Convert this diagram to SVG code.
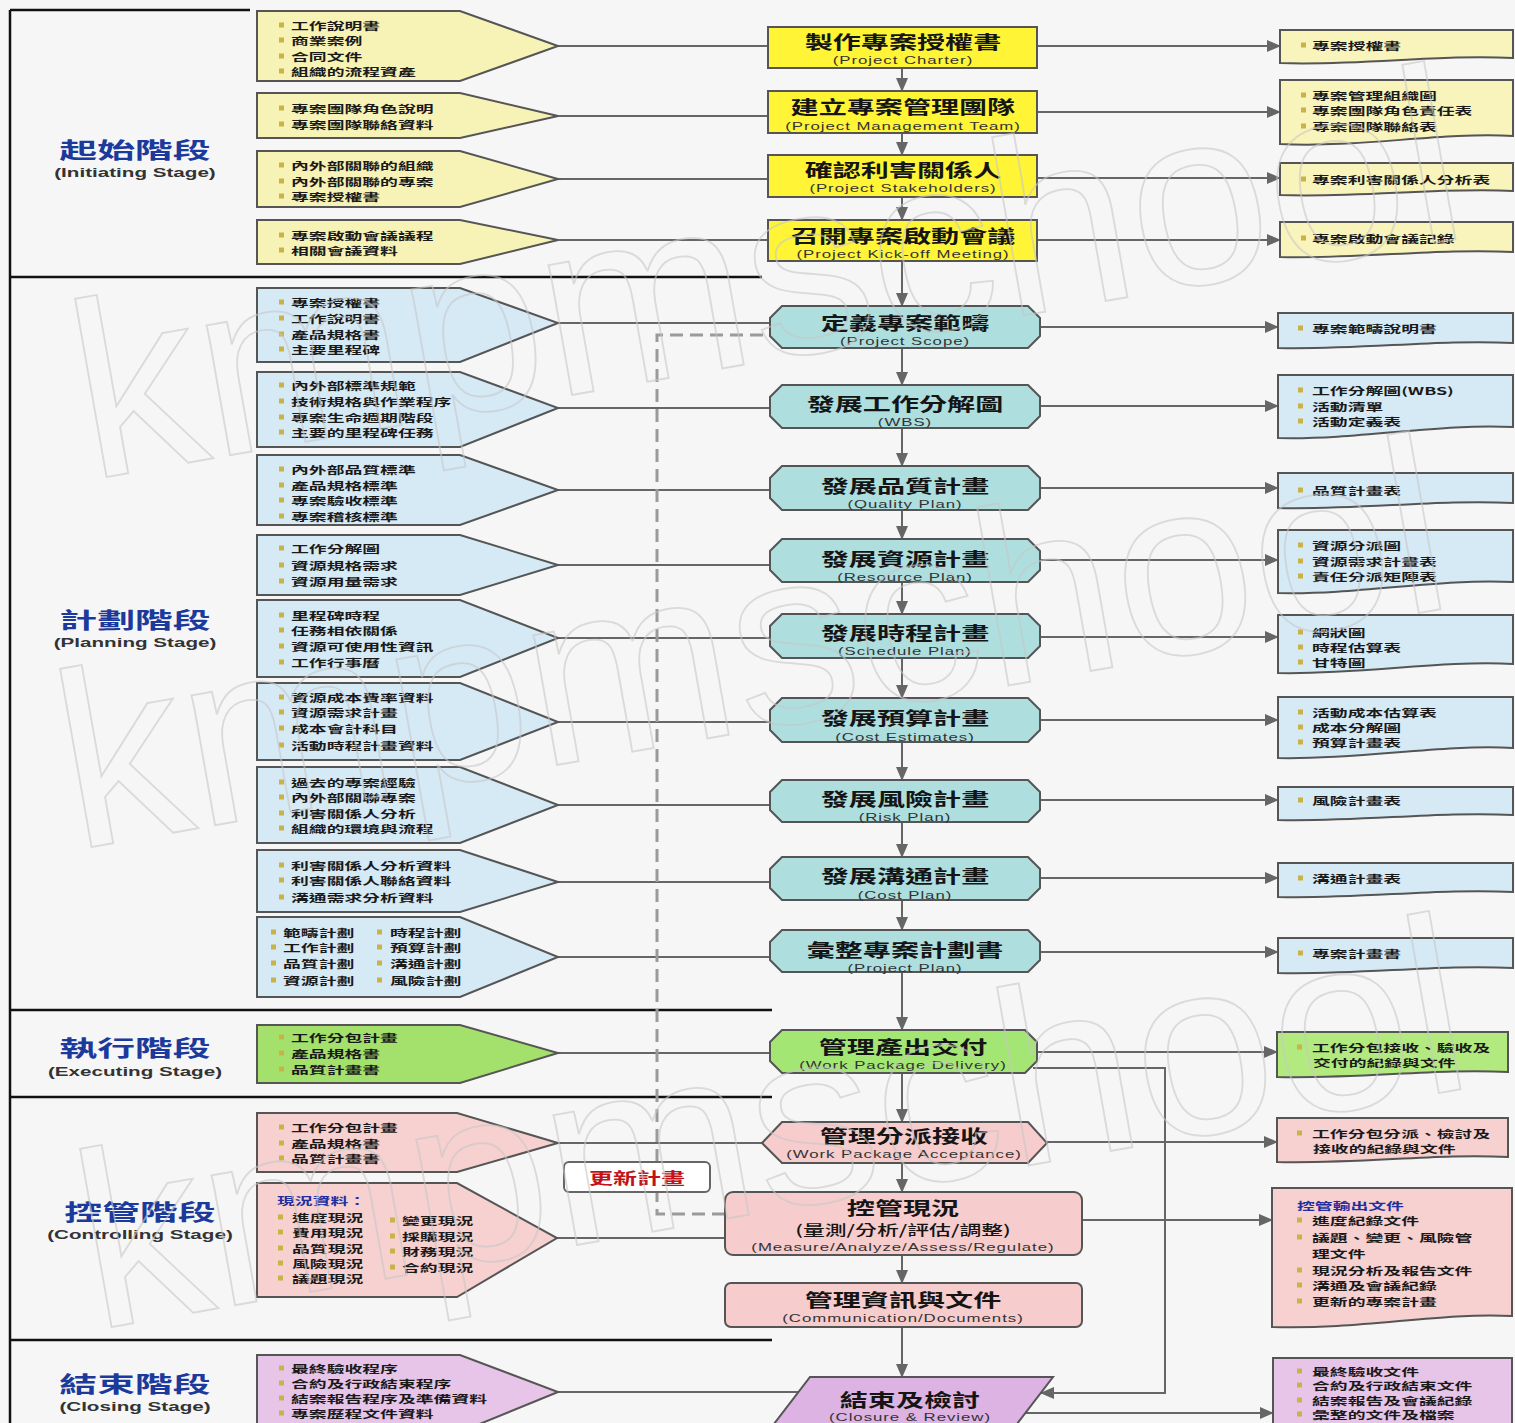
<svg xmlns="http://www.w3.org/2000/svg" xmlns:xlink="http://www.w3.org/1999/xlink" width="1515" height="1423" viewBox="0 0 1515 1423">
<style>
.bg{fill:#f6f6f6}
.frame{stroke:#111;stroke-width:2.5;fill:none}
.box{stroke:#555;stroke-width:2}
.iy{fill:#f7f3b6}.ib{fill:#d6eaf6}.ig{fill:#a3e06c}.ip{fill:#f7d0d0}.iv{fill:#e6c5e8}
.ny{fill:#fff536}.nb{fill:#aedede}.ng{fill:#a4e674}.np{fill:#f6cccc}.nv{fill:#dcb3e3}
.oy{fill:#f8f4bb}.ob{fill:#d6eaf6}.og{fill:#b3ea7f}.op{fill:#f7d0d0}.ov{fill:#e6c5e8}
.t{font-family:"Noto Sans CJK TC","Noto Sans CJK SC",sans-serif;font-size:10.5px;font-weight:700;fill:#1a1a1a;dominant-baseline:central;transform-box:fill-box;transform-origin:0 50%;transform:scaleX(1.7)}
.tb{fill:#1f2fa0}
.h{font-family:"Noto Sans CJK TC","Noto Sans CJK SC",sans-serif;font-size:18px;font-weight:700;fill:#151515;text-anchor:middle;dominant-baseline:central;transform-box:fill-box;transform-origin:50% 50%;transform:scaleX(1.56)}
.h2{font-size:14px;font-weight:500}
.s{font-family:"Liberation Sans",Arial,sans-serif;font-size:10.5px;letter-spacing:0.6px;fill:#333;text-anchor:middle;dominant-baseline:central;transform-box:fill-box;transform-origin:50% 50%;transform:scaleX(1.6)}
.g{font-family:"Noto Sans CJK TC","Noto Sans CJK SC",sans-serif;font-size:22px;font-weight:700;fill:#1b3a9c;text-anchor:middle;dominant-baseline:central;transform-box:fill-box;transform-origin:50% 50%;transform:scaleX(1.72)}
.ge{font-family:"Liberation Sans",Arial,sans-serif;font-size:12.5px;font-weight:700;fill:#333;text-anchor:middle;dominant-baseline:central;transform-box:fill-box;transform-origin:50% 50%;transform:scaleX(1.65)}
.upd{font-family:"Noto Sans CJK TC","Noto Sans CJK SC",sans-serif;font-size:16px;font-weight:700;fill:#c0141a;text-anchor:middle;dominant-baseline:central;transform-box:fill-box;transform-origin:50% 50%;transform:scaleX(1.5)}
.ln{stroke:#666;stroke-width:2;fill:none}
.ar{stroke:#666;stroke-width:2;fill:none;marker-end:url(#ah)}
.dash{stroke:#9a9a9a;stroke-width:3;fill:none;stroke-dasharray:13 7}
.wm{font-family:"Liberation Sans",Arial,sans-serif;font-size:250px;fill:none;stroke:#c8c8c8;stroke-width:1.8;opacity:0.6}
</style>
<defs>
<marker id="ah" markerUnits="userSpaceOnUse" markerWidth="14" markerHeight="14" viewBox="0 0 14 14" refX="13" refY="7" orient="auto">
<path d="M0,1 L14,7 L0,13 Z" fill="#666"/>
</marker>
<rect id="bu" x="0" y="-2.5" width="5" height="5" fill="#c9b246"/>
</defs>
<rect class="bg" x="0" y="0" width="1515" height="1423"/>

<g id="frame">
<path class="frame" d="M10,10 H250 M10,10 V1423 M10,277 H762 M10,1010 H772 M10,1097 H772 M10,1340 H772"/>
</g>

<g id="stages">
<g id="stage-initiating"><text class="g" x="135" y="148">起始階段</text><text class="ge" x="135" y="173">(Initiating  Stage)</text></g>
<g id="stage-planning"><text class="g" x="135" y="618">計劃階段</text><text class="ge" x="135" y="643">(Planning  Stage)</text></g>
<g id="stage-executing"><text class="g" x="135" y="1046">執行階段</text><text class="ge" x="135" y="1072">(Executing  Stage)</text></g>
<g id="stage-controlling"><text class="g" x="140" y="1210">控管階段</text><text class="ge" x="140" y="1235">(Controlling  Stage)</text></g>
<g id="stage-closing"><text class="g" x="135" y="1382">結束階段</text><text class="ge" x="135" y="1407">(Closing  Stage)</text></g>
</g>

<g id="connectors">
<path class="ln" d="M558,46 H768 M558,116 H768 M558,179 H768 M558,240 H768"/>
<path class="ln" d="M558,323 H770 M558,408 H770 M558,490 H770 M558,565 H770 M558,638 H770 M558,722 H770 M558,805 H770 M558,882 H770 M558,957 H770"/>
<path class="ln" d="M558,1053 H770 M558,1143 H762 M557,1238 H725 M558,1392 H799"/>
<path class="ar" d="M902,68 V91"/>
<path class="ar" d="M902,133 V155"/>
<path class="ar" d="M902,197 V220"/>
<path class="ar" d="M902,261 V306"/>
<path class="ar" d="M902,348 V385"/>
<path class="ar" d="M902,428 V466"/>
<path class="ar" d="M902,510 V539"/>
<path class="ar" d="M902,582 V614"/>
<path class="ar" d="M902,658 V698"/>
<path class="ar" d="M902,742 V780"/>
<path class="ar" d="M902,822 V857"/>
<path class="ar" d="M902,900 V930"/>
<path class="ar" d="M902,972 V1030"/>
<path class="ar" d="M902,1073 V1122"/>
<path class="ar" d="M902,1163 V1192"/>
<path class="ar" d="M902,1255 V1283"/>
<path class="ar" d="M902,1327 V1377"/>
<path class="ar" d="M1037,46 H1280"/>
<path class="ar" d="M1037,112 H1280"/>
<path class="ar" d="M1037,178 H1280"/>
<path class="ar" d="M1037,240 H1280"/>
<path class="ar" d="M1040,327 H1278"/>
<path class="ar" d="M1040,406 H1278"/>
<path class="ar" d="M1040,488 H1278"/>
<path class="ar" d="M1040,560 H1278"/>
<path class="ar" d="M1040,637 H1278"/>
<path class="ar" d="M1040,720 H1278"/>
<path class="ar" d="M1040,800 H1278"/>
<path class="ar" d="M1040,878 H1278"/>
<path class="ar" d="M1040,952 H1278"/>
<path class="ar" d="M1037,1052 H1277"/>
<path class="ar" d="M1047,1142 H1277"/>
<path class="ar" d="M1082,1220 H1272"/>
<path class="ar" d="M1025,1413 H1273"/>
<path class="ar" d="M1033,1068 H1165 V1393 H1041"/>
<path class="dash" d="M725,1214 H657 V335 H770"/>
</g>

<g id="in-init-1"><path class="box iy" d="M257,11H460L558,46L460,81H257Z"/>
<use href="#bu" x="279" y="25"/><text class="t" x="291" y="25">工作說明書</text>
<use href="#bu" x="279" y="40"/><text class="t" x="291" y="40">商業案例</text>
<use href="#bu" x="279" y="56"/><text class="t" x="291" y="56">合同文件</text>
<use href="#bu" x="279" y="71"/><text class="t" x="291" y="71">組織的流程資產</text></g>
<g id="in-init-2"><path class="box iy" d="M257,93H460L558,116L460,138H257Z"/>
<use href="#bu" x="279" y="108"/><text class="t" x="291" y="108">專案團隊角色說明</text>
<use href="#bu" x="279" y="124"/><text class="t" x="291" y="124">專案團隊聯絡資料</text></g>
<g id="in-init-3"><path class="box iy" d="M257,151H460L558,179L460,207H257Z"/>
<use href="#bu" x="279" y="165"/><text class="t" x="291" y="165">內外部關聯的組織</text>
<use href="#bu" x="279" y="181"/><text class="t" x="291" y="181">內外部關聯的專案</text>
<use href="#bu" x="279" y="196"/><text class="t" x="291" y="196">專案授權書</text></g>
<g id="in-init-4"><path class="box iy" d="M257,220H460L558,240L460,264H257Z"/>
<use href="#bu" x="279" y="235"/><text class="t" x="291" y="235">專案啟動會議議程</text>
<use href="#bu" x="279" y="250"/><text class="t" x="291" y="250">相關會議資料</text></g>

<g id="in-plan-1"><path class="box ib" d="M257,288H460L558,323L460,362H257Z"/>
<use href="#bu" x="279" y="302"/><text class="t" x="291" y="302">專案授權書</text>
<use href="#bu" x="279" y="318"/><text class="t" x="291" y="318">工作說明書</text>
<use href="#bu" x="279" y="334"/><text class="t" x="291" y="334">產品規格書</text>
<use href="#bu" x="279" y="349"/><text class="t" x="291" y="349">主要里程碑</text></g>
<g id="in-plan-2"><path class="box ib" d="M257,372H460L558,408L460,447H257Z"/>
<use href="#bu" x="279" y="385"/><text class="t" x="291" y="385">內外部標準規範</text>
<use href="#bu" x="279" y="401"/><text class="t" x="291" y="401">技術規格與作業程序</text>
<use href="#bu" x="279" y="417"/><text class="t" x="291" y="417">專案生命週期階段</text>
<use href="#bu" x="279" y="432"/><text class="t" x="291" y="432">主要的里程碑任務</text></g>
<g id="in-plan-3"><path class="box ib" d="M257,455H460L558,490L460,525H257Z"/>
<use href="#bu" x="279" y="469"/><text class="t" x="291" y="469">內外部品質標準</text>
<use href="#bu" x="279" y="485"/><text class="t" x="291" y="485">產品規格標準</text>
<use href="#bu" x="279" y="500"/><text class="t" x="291" y="500">專案驗收標準</text>
<use href="#bu" x="279" y="516"/><text class="t" x="291" y="516">專案稽核標準</text></g>
<g id="in-plan-4"><path class="box ib" d="M257,535H460L558,565L460,595H257Z"/>
<use href="#bu" x="279" y="548"/><text class="t" x="291" y="548">工作分解圖</text>
<use href="#bu" x="279" y="565"/><text class="t" x="291" y="565">資源規格需求</text>
<use href="#bu" x="279" y="581"/><text class="t" x="291" y="581">資源用量需求</text></g>
<g id="in-plan-5"><path class="box ib" d="M257,600H460L558,638L460,677H257Z"/>
<use href="#bu" x="279" y="615"/><text class="t" x="291" y="615">里程碑時程</text>
<use href="#bu" x="279" y="630"/><text class="t" x="291" y="630">任務相依關係</text>
<use href="#bu" x="279" y="646"/><text class="t" x="291" y="646">資源可使用性資訊</text>
<use href="#bu" x="279" y="662"/><text class="t" x="291" y="662">工作行事曆</text></g>
<g id="in-plan-6"><path class="box ib" d="M257,683H460L558,722L460,760H257Z"/>
<use href="#bu" x="279" y="697"/><text class="t" x="291" y="697">資源成本費率資料</text>
<use href="#bu" x="279" y="712"/><text class="t" x="291" y="712">資源需求計畫</text>
<use href="#bu" x="279" y="728"/><text class="t" x="291" y="728">成本會計科目</text>
<use href="#bu" x="279" y="745"/><text class="t" x="291" y="745">活動時程計畫資料</text></g>
<g id="in-plan-7"><path class="box ib" d="M257,767H460L558,805L460,843H257Z"/>
<use href="#bu" x="279" y="782"/><text class="t" x="291" y="782">過去的專案經驗</text>
<use href="#bu" x="279" y="797"/><text class="t" x="291" y="797">內外部關聯專案</text>
<use href="#bu" x="279" y="813"/><text class="t" x="291" y="813">利害關係人分析</text>
<use href="#bu" x="279" y="828"/><text class="t" x="291" y="828">組織的環境與流程</text></g>
<g id="in-plan-8"><path class="box ib" d="M257,850H460L558,882L460,912H257Z"/>
<use href="#bu" x="279" y="865"/><text class="t" x="291" y="865">利害關係人分析資料</text>
<use href="#bu" x="279" y="880"/><text class="t" x="291" y="880">利害關係人聯絡資料</text>
<use href="#bu" x="279" y="897"/><text class="t" x="291" y="897">溝通需求分析資料</text></g>
<g id="in-plan-9"><path class="box ib" d="M257,917H460L558,957L460,997H257Z"/>
<use href="#bu" x="271" y="932"/><text class="t" x="283" y="932">範疇計劃</text>
<use href="#bu" x="271" y="947"/><text class="t" x="283" y="947">工作計劃</text>
<use href="#bu" x="271" y="963"/><text class="t" x="283" y="963">品質計劃</text>
<use href="#bu" x="271" y="980"/><text class="t" x="283" y="980">資源計劃</text>
<use href="#bu" x="377" y="932"/><text class="t" x="390" y="932">時程計劃</text>
<use href="#bu" x="377" y="947"/><text class="t" x="390" y="947">預算計劃</text>
<use href="#bu" x="377" y="963"/><text class="t" x="390" y="963">溝通計劃</text>
<use href="#bu" x="377" y="980"/><text class="t" x="390" y="980">風險計劃</text></g>

<g id="in-exec"><path class="box ig" d="M257,1025H460L558,1053L460,1083H257Z"/>
<use href="#bu" x="279" y="1037"/><text class="t" x="291" y="1037">工作分包計畫</text>
<use href="#bu" x="279" y="1053"/><text class="t" x="291" y="1053">產品規格書</text>
<use href="#bu" x="279" y="1069"/><text class="t" x="291" y="1069">品質計畫書</text></g>
<g id="in-ctrl-1"><path class="box ip" d="M257,1113H457L558,1143L457,1172H257Z"/>
<use href="#bu" x="279" y="1127"/><text class="t" x="291" y="1127">工作分包計畫</text>
<use href="#bu" x="279" y="1143"/><text class="t" x="291" y="1143">產品規格書</text>
<use href="#bu" x="279" y="1158"/><text class="t" x="291" y="1158">品質計畫書</text></g>
<g id="in-ctrl-2"><path class="box ip" d="M257,1183H457L557,1238L457,1297H257Z"/>
<text class="t tb" x="277" y="1200">現況資料：</text>
<use href="#bu" x="278" y="1217"/><text class="t" x="292" y="1217">進度現況</text>
<use href="#bu" x="278" y="1232"/><text class="t" x="292" y="1232">費用現況</text>
<use href="#bu" x="278" y="1248"/><text class="t" x="292" y="1248">品質現況</text>
<use href="#bu" x="278" y="1263"/><text class="t" x="292" y="1263">風險現況</text>
<use href="#bu" x="278" y="1278"/><text class="t" x="292" y="1278">議題現況</text>
<use href="#bu" x="390" y="1220"/><text class="t" x="402" y="1220">變更現況</text>
<use href="#bu" x="390" y="1236"/><text class="t" x="402" y="1236">採購現況</text>
<use href="#bu" x="390" y="1251"/><text class="t" x="402" y="1251">財務現況</text>
<use href="#bu" x="390" y="1267"/><text class="t" x="402" y="1267">合約現況</text></g>
<g id="in-close"><path class="box iv" d="M257,1355H460L558,1392L460,1432H257Z"/>
<use href="#bu" x="279" y="1368"/><text class="t" x="291" y="1368">最終驗收程序</text>
<use href="#bu" x="279" y="1383"/><text class="t" x="291" y="1383">合約及行政結束程序</text>
<use href="#bu" x="279" y="1398"/><text class="t" x="291" y="1398">結案報告程序及準備資料</text>
<use href="#bu" x="279" y="1413"/><text class="t" x="291" y="1413">專案歷程文件資料</text></g>

<g id="update-plan"><rect x="564" y="1162" width="146" height="30" rx="5" fill="#ffffff" stroke="#666" stroke-width="2"/><text class="upd" x="637" y="1177">更新計畫</text></g>

<g id="n-charter"><rect class="box ny" x="768" y="27" width="269" height="41"/><text class="h" x="903" y="41">製作專案授權書</text><text class="s" x="903" y="60">(Project Charter)</text></g>
<g id="n-team"><rect class="box ny" x="768" y="91" width="269" height="42"/><text class="h" x="903" y="106">建立專案管理團隊</text><text class="s" x="903" y="126">(Project Management Team)</text></g>
<g id="n-stake"><rect class="box ny" x="768" y="155" width="269" height="42"/><text class="h" x="903" y="169">確認利害關係人</text><text class="s" x="903" y="188">(Project Stakeholders)</text></g>
<g id="n-kickoff"><rect class="box ny" x="768" y="220" width="269" height="41"/><text class="h" x="903" y="235">召開專案啟動會議</text><text class="s" x="903" y="254">(Project Kick-off Meeting)</text></g>

<g id="n-scope"><path class="box nb" d="M782,306H1028L1040,318V336L1028,348H782L770,336V318Z"/><text class="h" x="905" y="322">定義專案範疇</text><text class="s" x="905" y="341">(Project Scope)</text></g>
<g id="n-wbs"><path class="box nb" d="M782,385H1028L1040,397V416L1028,428H782L770,416V397Z"/><text class="h" x="905" y="403">發展工作分解圖</text><text class="s" x="905" y="422">(WBS)</text></g>
<g id="n-quality"><path class="box nb" d="M782,466H1028L1040,478V498L1028,510H782L770,498V478Z"/><text class="h" x="905" y="485">發展品質計畫</text><text class="s" x="905" y="504">(Quality Plan)</text></g>
<g id="n-resource"><path class="box nb" d="M782,539H1028L1040,551V570L1028,582H782L770,570V551Z"/><text class="h" x="905" y="558">發展資源計畫</text><text class="s" x="905" y="577">(Resource Plan)</text></g>
<g id="n-schedule"><path class="box nb" d="M782,614H1028L1040,626V646L1028,658H782L770,646V626Z"/><text class="h" x="905" y="632">發展時程計畫</text><text class="s" x="905" y="651">(Schedule Plan)</text></g>
<g id="n-cost"><path class="box nb" d="M782,698H1028L1040,710V730L1028,742H782L770,730V710Z"/><text class="h" x="905" y="717">發展預算計畫</text><text class="s" x="905" y="737">(Cost Estimates)</text></g>
<g id="n-risk"><path class="box nb" d="M782,780H1028L1040,792V810L1028,822H782L770,810V792Z"/><text class="h" x="905" y="798">發展風險計畫</text><text class="s" x="905" y="817">(Risk Plan)</text></g>
<g id="n-comm"><path class="box nb" d="M782,857H1028L1040,869V888L1028,900H782L770,888V869Z"/><text class="h" x="905" y="875">發展溝通計畫</text><text class="s" x="905" y="895">(Cost Plan)</text></g>
<g id="n-plan"><path class="box nb" d="M782,930H1028L1040,942V960L1028,972H782L770,960V942Z"/><text class="h" x="905" y="949">彙整專案計劃書</text><text class="s" x="905" y="968">(Project Plan)</text></g>

<g id="n-delivery"><path class="box ng" d="M782,1030H1025L1037,1042V1061L1025,1073H782L770,1061V1042Z"/><text class="h" x="903" y="1046">管理產出交付</text><text class="s" x="903" y="1065">(Work Package Delivery)</text></g>
<g id="n-accept"><path class="box np" d="M782,1122H1028L1047,1143L1028,1163H782L762,1143Z"/><text class="h" x="904" y="1135">管理分派接收</text><text class="s" x="904" y="1154">(Work Package Acceptance)</text></g>
<g id="n-control"><rect class="box np" x="725" y="1192" width="357" height="63" rx="8"/><text class="h" x="903" y="1207">控管現況</text><text class="h h2" x="903" y="1229">(量測/分析/評估/調整)</text><text class="s" x="903" y="1247">(Measure/Analyze/Assess/Regulate)</text></g>
<g id="n-docs"><rect class="box np" x="725" y="1283" width="357" height="44" rx="6"/><text class="h" x="903" y="1299">管理資訊與文件</text><text class="s" x="903" y="1318">(Communication/Documents)</text></g>
<g id="n-closure"><path class="box nv" d="M810,1377H1053L1010,1433H767Z"/><text class="h" x="910" y="1399">結束及檢討</text><text class="s" x="910" y="1417">(Closure &amp; Review)</text></g>

<g id="out-init-1"><path class="box oy" d="M1280,30H1513V58C1440,54 1360,66 1280,63Z"/><use href="#bu" x="1301" y="45"/><text class="t" x="1312" y="45">專案授權書</text></g>
<g id="out-init-2"><path class="box oy" d="M1280,80H1513V136C1440,132 1360,148 1280,144Z"/>
<use href="#bu" x="1301" y="95"/><text class="t" x="1312" y="95">專案管理組織圖</text>
<use href="#bu" x="1301" y="110"/><text class="t" x="1312" y="110">專案團隊角色責任表</text>
<use href="#bu" x="1301" y="126"/><text class="t" x="1312" y="126">專案團隊聯絡表</text></g>
<g id="out-init-3"><path class="box oy" d="M1280,163H1513V191C1440,187 1360,198 1280,195Z"/><use href="#bu" x="1301" y="179"/><text class="t" x="1312" y="179">專案利害關係人分析表</text></g>
<g id="out-init-4"><path class="box oy" d="M1280,222H1513V252C1440,248 1360,259 1280,257Z"/><use href="#bu" x="1301" y="238"/><text class="t" x="1312" y="238">專案啟動會議記錄</text></g>

<g id="out-plan-1"><path class="box ob" d="M1278,313H1513V343C1440,339 1360,350 1278,348Z"/><use href="#bu" x="1298" y="328"/><text class="t" x="1312" y="328">專案範疇說明書</text></g>
<g id="out-plan-2"><path class="box ob" d="M1278,375H1513V427C1440,423 1360,440 1278,438Z"/>
<use href="#bu" x="1298" y="390"/><text class="t" x="1312" y="390">工作分解圖(WBS)</text>
<use href="#bu" x="1298" y="406"/><text class="t" x="1312" y="406">活動清單</text>
<use href="#bu" x="1298" y="421"/><text class="t" x="1312" y="421">活動定義表</text></g>
<g id="out-plan-3"><path class="box ob" d="M1278,473H1513V503C1440,499 1360,510 1278,508Z"/><use href="#bu" x="1298" y="490"/><text class="t" x="1312" y="490">品質計畫表</text></g>
<g id="out-plan-4"><path class="box ob" d="M1278,530H1513V582C1440,578 1360,595 1278,593Z"/>
<use href="#bu" x="1298" y="545"/><text class="t" x="1312" y="545">資源分派圖</text>
<use href="#bu" x="1298" y="561"/><text class="t" x="1312" y="561">資源需求計畫表</text>
<use href="#bu" x="1298" y="576"/><text class="t" x="1312" y="576">責任分派矩陣表</text></g>
<g id="out-plan-5"><path class="box ob" d="M1278,615H1513V664C1440,660 1360,675 1278,673Z"/>
<use href="#bu" x="1298" y="632"/><text class="t" x="1312" y="632">網狀圖</text>
<use href="#bu" x="1298" y="647"/><text class="t" x="1312" y="647">時程估算表</text>
<use href="#bu" x="1298" y="662"/><text class="t" x="1312" y="662">甘特圖</text></g>
<g id="out-plan-6"><path class="box ob" d="M1278,697H1513V748C1440,744 1360,760 1278,758Z"/>
<use href="#bu" x="1298" y="712"/><text class="t" x="1312" y="712">活動成本估算表</text>
<use href="#bu" x="1298" y="727"/><text class="t" x="1312" y="727">成本分解圖</text>
<use href="#bu" x="1298" y="742"/><text class="t" x="1312" y="742">預算計畫表</text></g>
<g id="out-plan-7"><path class="box ob" d="M1278,787H1513V815C1440,811 1360,822 1278,820Z"/><use href="#bu" x="1298" y="800"/><text class="t" x="1312" y="800">風險計畫表</text></g>
<g id="out-plan-8"><path class="box ob" d="M1278,863H1513V892C1440,888 1360,899 1278,897Z"/><use href="#bu" x="1298" y="878"/><text class="t" x="1312" y="878">溝通計畫表</text></g>
<g id="out-plan-9"><path class="box ob" d="M1278,938H1513V968C1440,964 1360,975 1278,973Z"/><use href="#bu" x="1298" y="953"/><text class="t" x="1312" y="953">專案計畫書</text></g>

<g id="out-exec"><path class="box og" d="M1277,1032H1508V1072C1440,1068 1360,1079 1277,1077Z"/>
<use href="#bu" x="1297" y="1047"/><text class="t" x="1312" y="1047">工作分包接收、驗收及</text>
<text class="t" x="1313" y="1062">交付的紀錄與文件</text></g>
<g id="out-ctrl-1"><path class="box op" d="M1277,1118H1508V1157C1440,1153 1360,1164 1277,1162Z"/>
<use href="#bu" x="1297" y="1133"/><text class="t" x="1312" y="1133">工作分包分派、檢討及</text>
<text class="t" x="1313" y="1148">接收的紀錄與文件</text></g>
<g id="out-ctrl-2"><path class="box op" d="M1272,1188H1512V1316C1440,1312 1360,1330 1272,1327Z"/>
<text class="t tb" x="1297" y="1205">控管輸出文件</text>
<use href="#bu" x="1297" y="1220"/><text class="t" x="1312" y="1220">進度紀錄文件</text>
<use href="#bu" x="1297" y="1237"/><text class="t" x="1312" y="1237">議題、變更、風險管</text>
<text class="t" x="1312" y="1253">理文件</text>
<use href="#bu" x="1297" y="1270"/><text class="t" x="1312" y="1270">現況分析及報告文件</text>
<use href="#bu" x="1297" y="1285"/><text class="t" x="1312" y="1285">溝通及會議紀錄</text>
<use href="#bu" x="1297" y="1301"/><text class="t" x="1312" y="1301">更新的專案計畫</text></g>
<g id="out-close"><path class="box ov" d="M1273,1358H1512V1432H1273Z"/>
<use href="#bu" x="1297" y="1371"/><text class="t" x="1312" y="1371">最終驗收文件</text>
<use href="#bu" x="1297" y="1385"/><text class="t" x="1312" y="1385">合約及行政結束文件</text>
<use href="#bu" x="1297" y="1400"/><text class="t" x="1312" y="1400">結案報告及會議紀錄</text>
<use href="#bu" x="1297" y="1414"/><text class="t" x="1312" y="1414">彙整的文件及檔案</text></g>

<g id="watermark">
<text class="wm" x="90" y="480" transform="rotate(-10 90 480)">kmpmschool</text>
<text class="wm" x="75" y="850" transform="rotate(-10 75 850)">kmpmschool</text>
<text class="wm" x="95" y="1330" transform="rotate(-10 95 1330)">kmpmschool</text>
</g>
</svg>
